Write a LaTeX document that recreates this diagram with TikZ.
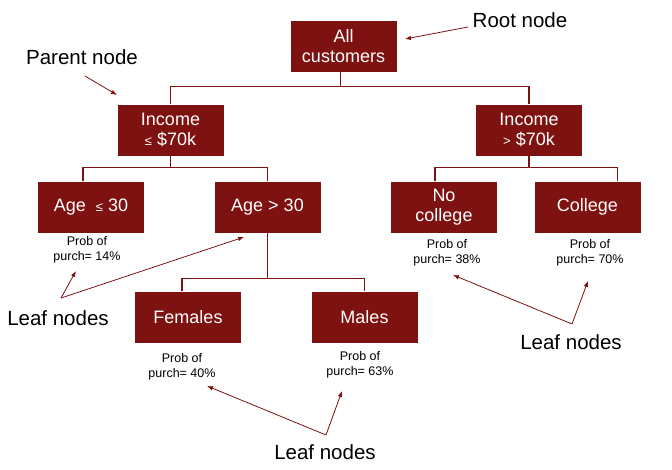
\documentclass[tikz,border=0pt]{standalone}
\usepackage{fontspec}
\setmainfont{Liberation Sans}
\usetikzlibrary{arrows.meta}
\definecolor{treered}{RGB}{125,18,16}
\newcommand\smsym[1]{{\fontsize{13}{13}\selectfont #1}}
\tikzset{
  box/.style={fill=treered,text=white,minimum width=106pt,minimum height=51pt,
    inner sep=0pt,align=center,font=\fontsize{18}{19.5}\selectfont},
  prob/.style={align=center,inner sep=0pt,font=\fontsize{12.5}{15.5}\selectfont},
  lbl/.style={inner sep=0pt,font=\fontsize{20.5}{24}\selectfont},
  branch/.style={treered,line width=1.3pt},
  pointer/.style={treered,line width=0.8pt,-{Latex[length=6pt,width=4.5pt]}}
}
\begin{document}
\begin{tikzpicture}[x=1pt,y=-1pt]
	\useasboundingbox (0,0) rectangle (672,469);
	% tree boxes
	\node[box] (all) at (343.5,46) {All\\customers};
	\node[box] (inclo) at (170.5,130) {Income\\\smsym{≤} \$70k};
	\node[box] (inchi) at (529,130) {Income\\\smsym{>} \$70k};
	\node[box] (agelo) at (91,207) {Age\ \ \smsym{≤}\ 30};
	\node[box] (agehi) at (267.5,207) {Age > 30};
	\node[box] (nocol) at (444,207) {No\\college};
	\node[box] (col) at (587.5,207) {College};
	\node[box] (fem) at (188,317) {Females};
	\node[box] (male) at (364.5,317) {Males};
	% branches
	\draw[branch] ([xshift=-3pt]all.south) -- ++(0,15) -| (inclo.north);
	\draw[branch] ([xshift=-3pt]all.south) -- ++(0,15) -| (inchi.north);
	\draw[branch] (inclo.south) -- ++(0,12) -| ([xshift=-8pt]agelo.north);
	\draw[branch] (inclo.south) -- ++(0,12) -| (agehi.north);
	\draw[branch] (inchi.south) -- ++(0,12) -| ([xshift=-9pt]nocol.north);
	\draw[branch] (inchi.south) -- ++(0,12) -| ([xshift=30pt]col.north);
	\draw[branch] (agehi.south) -- ++(0,46) -| ([xshift=-6pt]fem.north);
	\draw[branch] (agehi.south) -- ++(0,46) -| (male.north);
	% probabilities
	\node[prob] (p14) at (87,250) {Prob of\\purch= 14\%};
	\node[prob] (p40) at (182,367) {Prob of\\purch= 40\%};
	\node[prob] (p63) at (360,365) {Prob of\\purch= 63\%};
	\node[prob] (p38) at (447,253) {Prob of\\purch= 38\%};
	\node[prob] (p70) at (590,253) {Prob of\\purch= 70\%};
	% labels
	\node[lbl] (rootlbl) at (520,20) {Root node};
	\node[lbl] (parentlbl) at (82,57) {Parent node};
	\node[lbl] (leafa) at (58,318) {Leaf nodes};
	\node[lbl] (leafb) at (571,342) {Leaf nodes};
	\node[lbl] (leafc) at (325,452) {Leaf nodes};
	% pointers
	\coordinate (ra) at (468,27);
	\coordinate (pa) at (85,76);
	\coordinate (la) at (61,298);
	\coordinate (lb) at (572,324);
	\coordinate (lc) at (326,435);
	\draw[pointer] (ra) -- (405,39);
	\draw[pointer] (pa) -- (117,95);
	\draw[pointer] (la) -- (76,271);
	\draw[pointer] (la) -- (244,237);
	\draw[pointer] (lb) -- (453,275);
	\draw[pointer] (lb) -- (588,281);
	\draw[pointer] (lc) -- (207,386);
	\draw[pointer] (lc) -- (342,391);
\end{tikzpicture}
\end{document}
